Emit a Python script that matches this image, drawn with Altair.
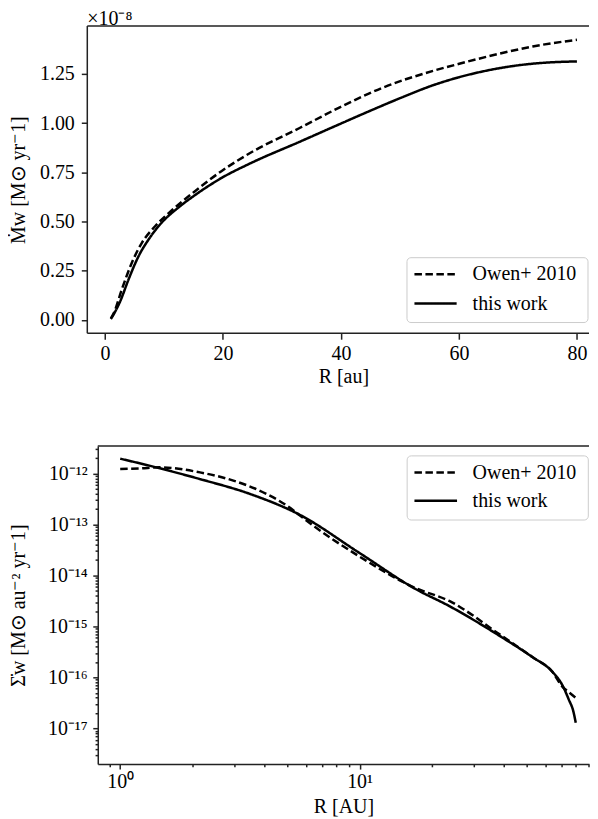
import json
import altair as alt
import pandas as pd

FONT = "Liberation Serif"
SERIES = ["Owen+ 2010", "this work"]
INK = "#222222"

# ---- top panel: mass-loss rate (units of 1e-8 Msun/yr) ----
top_R_owen = [1, 1.5, 2.87, 4.56, 6.26, 8.5, 11.3, 15.0, 19.8, 24.6, 33.0, 39.8, 47.1, 55.6, 59.9, 66.8, 72.5, 80]
top_M_owen = [0.008, 0.035, 0.156, 0.291, 0.392, 0.476, 0.556, 0.648, 0.757, 0.848, 0.975, 1.08, 1.18, 1.265, 1.3, 1.352, 1.389, 1.423]
top_R_this = [1, 1.5, 2.6, 4.0, 5.7, 7.4, 9.6, 12.4, 15.3, 19.8, 24.6, 33.0, 39.8, 44.3, 49.9, 55.6, 59.9, 64.0, 69.7, 75.3, 80]
top_M_this = [0.005, 0.03, 0.096, 0.206, 0.324, 0.409, 0.494, 0.57, 0.635, 0.722, 0.795, 0.905, 0.995, 1.054, 1.125, 1.192, 1.232, 1.262, 1.292, 1.308, 1.313]

# ---- bottom panel: surface mass-loss rate ----
bot_R_owen = [1, 1.21, 1.47, 2.154, 2.97, 4.08, 5.28, 5.62, 10, 17.2, 23.7, 38.3, 52.7, 63.9, 70.3, 74.9, 80]
bot_S_owen = [1.22e-12, 1.26e-12, 1.32e-12, 1.05e-12, 7.24e-13, 3.98e-13, 1.91e-13, 1.51e-13, 2.34e-14, 5.62e-15,
              3.16e-15, 7.08e-16, 2.51e-16, 1.29e-16, 6.61e-17, 5.13e-17, 3.98e-17]
bot_R_this = [1, 1.334, 2.154, 3.48, 5.62, 10, 17.2, 23.7, 38.3, 52.7, 63.9, 70.3, 74.9, 78, 80]
bot_S_this = [1.95e-12, 1.41e-12, 7.76e-13, 3.98e-13, 1.55e-13, 2.75e-14, 5.37e-15, 2.51e-15, 6.61e-16, 2.51e-16,
              1.29e-16, 7.08e-17, 3.63e-17, 2.24e-17, 1.29e-17]

# ---- ticks ----
top_x_ticks = [0, 20, 40, 60, 80]
top_y_ticks = [0.0, 0.25, 0.5, 0.75, 1.0, 1.25]
bot_x_major = [1, 10]
bot_x_labels = ["10⁰", "10¹"]
bot_x_minor = [0.9, 2, 3, 4, 5, 6, 7, 8, 9, 20, 30, 40, 50, 60, 70, 80, 90]
bot_y_major = [1e-12, 1e-13, 1e-14, 1e-15, 1e-16, 1e-17]
bot_y_labels = ["10⁻¹²", "10⁻¹³", "10⁻¹⁴", "10⁻¹⁵", "10⁻¹⁶", "10⁻¹⁷"]
bot_y_minor = [m * 10.0 ** e for e in range(-18, -11) for m in range(2, 10)
               if 2.1e-18 < m * 10.0 ** e < 3.4e-12]

# ---- layout (pixels) ----
W = 492.5
H_TOP, H_BOT = 308, 319
SHIFT = 10.5          # top panel frame sits this far left of the shared origin


def long_df(rs, vs):
    rows = []
    for name, r, v in zip(SERIES, rs, vs):
        for a, b in zip(r, v):
            rows.append({"R": a, "v": b, "series": name})
    return pd.DataFrame(rows)


df_top = long_df([top_R_owen, top_R_this], [top_M_owen, top_M_this])
df_bot = long_df([bot_R_owen, bot_R_this], [bot_S_owen, bot_S_this])
legend_df = pd.DataFrame({"series": SERIES})


def label_expr(vals, labels):
    expr = "''"
    for v, l in reversed(list(zip(vals, labels))):
        expr = f"datum.value == {json.dumps(v)} ? '{l}' : {expr}"
    return expr


def major_test(vals):
    return f"indexof({json.dumps(vals)}, datum.value) >= 0"


dash_scale = alt.Scale(domain=SERIES, range=[[7.5, 3.5], [1, 0]])

axis_common = dict(
    grid=False, labelFont=FONT, labelFontSize=20, labelColor="black",
    titleFont=FONT, titleFontSize=20, titleFontWeight="normal", titleColor="black",
    domainColor=INK, domainWidth=1.5, tickColor=INK, tickWidth=1.5,
    labelOverlap=False, labelBound=False, labelFlush=False,
)


def frame_rule(x0, x1, y0, y1):
    return alt.Chart(legend_df.head(1)).mark_rule(color=INK, strokeWidth=1.5).encode(
        x=alt.value(x0), x2=alt.value(x1), y=alt.value(y0), y2=alt.value(y1))


def legend_layers(box, rows, line_x, text_x):
    x0, x1, y0, y1 = box
    layers = [alt.Chart(legend_df.head(1)).mark_rect(
        fill="white", stroke="#cccccc", strokeWidth=1, cornerRadius=4).encode(
        x=alt.value(x0), x2=alt.value(x1), y=alt.value(y0), y2=alt.value(y1))]
    dashes = [[7.5, 3.5], [1, 0]]
    for name, ry, d in zip(SERIES, rows, dashes):
        sub = alt.Chart(legend_df).transform_filter(alt.datum.series == name)
        layers.append(sub.mark_rule(color="black", strokeWidth=2.5, strokeDash=d).encode(
            x=alt.value(line_x[0]), x2=alt.value(line_x[1]), y=alt.value(ry)))
        layers.append(sub.mark_text(align="left", baseline="middle", font=FONT, fontSize=20,
                                    color="black").encode(
            text="series:N", x=alt.value(text_x), y=alt.value(ry)))
    return layers


# ---------------- top panel ----------------
px_per_R = 5.915
R_at_px0 = -1.217
top_lines = alt.Chart(df_top).mark_line(color="black", strokeWidth=2.5, interpolate="monotone").encode(
    x=alt.X("R:Q", scale=alt.Scale(domain=[R_at_px0, R_at_px0 + W / px_per_R], nice=False, zero=False),
            axis=alt.Axis(values=top_x_ticks, format="d", title="R [au]", tickSize=6, domain=False,
                          labelPadding=4.4, titlePadding=3, **axis_common)),
    y=alt.Y("v:Q", scale=alt.Scale(domain=[-0.067, 1.493], nice=False, zero=False),
            axis=alt.Axis(values=top_y_ticks, format=".2f", title="Ṁw [M⊙ yr⁻1]", tickSize=6,
                          domain=False, offset=SHIFT, labelPadding=7, minExtent=48, maxExtent=48,
                          titlePadding=10.5, **axis_common)),
    strokeDash=alt.StrokeDash("series:N", scale=dash_scale, legend=None),
)

top = alt.layer(
    top_lines,
    frame_rule(-SHIFT, W, 0, 0),
    frame_rule(-SHIFT, W, H_TOP, H_TOP),
    frame_rule(-SHIFT, -SHIFT, 0, H_TOP),
    *legend_layers((310, 491.5, 232.3, 297.3), (249, 278.3), (317.5, 359.8), 375.8),
).properties(
    width=W, height=H_TOP,
    title=alt.TitleParams("×10⁻⁸", anchor="start", frame="group", offset=-4, dx=-SHIFT, fontSize=20,
                          font=FONT, fontWeight="normal", color="black"),
)

# ---------------- bottom panel ----------------
bot_lines = alt.Chart(df_bot).mark_line(color="black", strokeWidth=2.5, interpolate="monotone").encode(
    x=alt.X("R:Q", scale=alt.Scale(type="log", domain=[10 ** (-22.5 / 240), 10 ** ((W - 22.5) / 240)], nice=False),
            axis=alt.Axis(values=sorted(bot_x_major + bot_x_minor), title="R [AU]",
                          labelExpr=label_expr(bot_x_major, bot_x_labels),
                          tickSize={"condition": {"test": major_test(bot_x_major), "value": 5}, "value": 2.7},
                          labelPadding=2.3, titlePadding=5, **axis_common)),
    y=alt.Y("v:Q", scale=alt.Scale(type="log", domain=[2.0e-18, 3.47e-12], nice=False),
            axis=alt.Axis(values=sorted(bot_y_major + bot_y_minor), title="Σ̇w [M⊙ au⁻² yr⁻1]",
                          labelExpr=label_expr(bot_y_major, bot_y_labels),
                          tickSize={"condition": {"test": major_test(bot_y_major), "value": 5}, "value": 2.7},
                          labelPadding=5.5, minExtent=57.5, maxExtent=57.5, titlePadding=12, **axis_common)),
    strokeDash=alt.StrokeDash("series:N", scale=dash_scale, legend=None),
)

bottom = alt.layer(
    bot_lines,
    frame_rule(0, W, 0, 0),
    *legend_layers((310.2, 491.8, 10, 74.3), (26.7, 55), (317.5, 360.2), 375.8),
).properties(width=W, height=H_BOT)

chart = alt.vconcat(top, bottom, spacing=52).resolve_scale(strokeDash="independent").properties(
    padding={"left": 0, "top": 0, "right": 0, "bottom": 0}, background="white"
).configure_view(strokeOpacity=0, strokeWidth=0)

chart.save("out.html", embed_options={"renderer": "svg", "actions": False})
